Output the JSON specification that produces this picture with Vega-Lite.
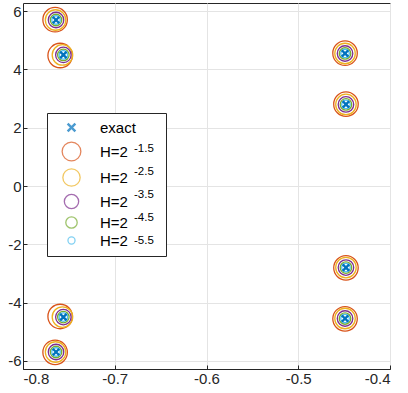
{
  "$schema": "https://vega.github.io/schema/vega-lite/v6.json",
  "width": 367,
  "height": 366,
  "autosize": "none",
  "padding": {"left": 23, "top": 3, "right": 18, "bottom": 24},
  "data": {
    "values": [
      {"series": "exact", "x": -0.764, "y": 5.70},
      {"series": "exact", "x": -0.756, "y": 4.50},
      {"series": "exact", "x": -0.449, "y": 4.55},
      {"series": "exact", "x": -0.448, "y": 2.80},
      {"series": "exact", "x": -0.448, "y": -2.80},
      {"series": "exact", "x": -0.449, "y": -4.55},
      {"series": "exact", "x": -0.756, "y": -4.50},
      {"series": "exact", "x": -0.764, "y": -5.70},
      {"series": "H=2^-1.5", "x": -0.765, "y": 5.71},
      {"series": "H=2^-1.5", "x": -0.7595, "y": 4.48},
      {"series": "H=2^-1.5", "x": -0.449, "y": 4.56},
      {"series": "H=2^-1.5", "x": -0.448, "y": 2.81},
      {"series": "H=2^-1.5", "x": -0.448, "y": -2.81},
      {"series": "H=2^-1.5", "x": -0.449, "y": -4.56},
      {"series": "H=2^-1.5", "x": -0.7595, "y": -4.48},
      {"series": "H=2^-1.5", "x": -0.765, "y": -5.71},
      {"series": "H=2^-2.5", "x": -0.7645, "y": 5.70},
      {"series": "H=2^-2.5", "x": -0.757, "y": 4.50},
      {"series": "H=2^-2.5", "x": -0.449, "y": 4.55},
      {"series": "H=2^-2.5", "x": -0.448, "y": 2.80},
      {"series": "H=2^-2.5", "x": -0.448, "y": -2.80},
      {"series": "H=2^-2.5", "x": -0.449, "y": -4.55},
      {"series": "H=2^-2.5", "x": -0.757, "y": -4.50},
      {"series": "H=2^-2.5", "x": -0.7645, "y": -5.70},
      {"series": "H=2^-3.5", "x": -0.764, "y": 5.70},
      {"series": "H=2^-3.5", "x": -0.756, "y": 4.50},
      {"series": "H=2^-3.5", "x": -0.449, "y": 4.55},
      {"series": "H=2^-3.5", "x": -0.448, "y": 2.80},
      {"series": "H=2^-3.5", "x": -0.448, "y": -2.80},
      {"series": "H=2^-3.5", "x": -0.449, "y": -4.55},
      {"series": "H=2^-3.5", "x": -0.756, "y": -4.50},
      {"series": "H=2^-3.5", "x": -0.764, "y": -5.70},
      {"series": "H=2^-4.5", "x": -0.764, "y": 5.70},
      {"series": "H=2^-4.5", "x": -0.756, "y": 4.50},
      {"series": "H=2^-4.5", "x": -0.449, "y": 4.55},
      {"series": "H=2^-4.5", "x": -0.448, "y": 2.80},
      {"series": "H=2^-4.5", "x": -0.448, "y": -2.80},
      {"series": "H=2^-4.5", "x": -0.449, "y": -4.55},
      {"series": "H=2^-4.5", "x": -0.756, "y": -4.50},
      {"series": "H=2^-4.5", "x": -0.764, "y": -5.70},
      {"series": "H=2^-5.5", "x": -0.764, "y": 5.70},
      {"series": "H=2^-5.5", "x": -0.756, "y": 4.50},
      {"series": "H=2^-5.5", "x": -0.449, "y": 4.55},
      {"series": "H=2^-5.5", "x": -0.448, "y": 2.80},
      {"series": "H=2^-5.5", "x": -0.448, "y": -2.80},
      {"series": "H=2^-5.5", "x": -0.449, "y": -4.55},
      {"series": "H=2^-5.5", "x": -0.756, "y": -4.50},
      {"series": "H=2^-5.5", "x": -0.764, "y": -5.70}
    ]
  },
  "encoding": {
    "x": {
      "field": "x", "type": "quantitative",
      "scale": {"domain": [-0.8, -0.4], "nice": false, "zero": false},
      "axis": {"title": null, "values": [-0.8, -0.7, -0.6, -0.5, -0.4], "format": ".1f"}
    },
    "y": {
      "field": "y", "type": "quantitative",
      "scale": {"domain": [-6.2832, 6.2832], "nice": false, "zero": false},
      "axis": {"title": null, "values": [-6, -4, -2, 0, 2, 4, 6], "format": "d"}
    },
    "color": {
      "field": "series", "type": "nominal",
      "scale": {
        "domain": ["exact", "H=2^-1.5", "H=2^-2.5", "H=2^-3.5", "H=2^-4.5", "H=2^-5.5"],
        "range": ["#0072BD", "#D95319", "#EDB120", "#7E2F8E", "#77AC30", "#4DBEEE"]
      },
      "legend": {
        "title": null,
        "labelExpr": "datum.label == 'exact' ? 'exact\u00a0\u00a0\u00a0\u00a0\u2009\u2009\u200b' : 'H=2'",
        "encoding": {
          "symbols": {
            "size": {"value": {"expr": "datum.value == 'exact' ? 60 : datum.value == 'H=2^-1.5' ? 350 : datum.value == 'H=2^-2.5' ? 300 : datum.value == 'H=2^-3.5' ? 205 : datum.value == 'H=2^-4.5' ? 130 : 50"}},
            "strokeWidth": {"value": {"expr": "datum.value == 'exact' ? 2.4 : 1.3"}}
          }
        }
      }
    },
    "shape": {
      "field": "series", "type": "nominal",
      "scale": {
        "domain": ["exact", "H=2^-1.5", "H=2^-2.5", "H=2^-3.5", "H=2^-4.5", "H=2^-5.5"],
        "range": ["M-1,-1L1,1M1,-1L-1,1", "circle", "circle", "circle", "circle", "circle"]
      },
      "legend": {
        "title": null,
        "labelExpr": "datum.label == 'exact' ? 'exact\u00a0\u00a0\u00a0\u00a0\u2009\u2009\u200b' : 'H=2'",
        "encoding": {
          "symbols": {
            "size": {"value": {"expr": "datum.value == 'exact' ? 60 : datum.value == 'H=2^-1.5' ? 350 : datum.value == 'H=2^-2.5' ? 300 : datum.value == 'H=2^-3.5' ? 205 : datum.value == 'H=2^-4.5' ? 130 : 50"}},
            "strokeWidth": {"value": {"expr": "datum.value == 'exact' ? 2.4 : 1.3"}}
          }
        }
      }
    },
    "size": {
      "condition": [
        {"test": "datum.series == 'exact'", "value": 42},
        {"test": "datum.series == 'H=2^-1.5'", "value": 600},
        {"test": "datum.series == 'H=2^-2.5'", "value": 420},
        {"test": "datum.series == 'H=2^-3.5'", "value": 240},
        {"test": "datum.series == 'H=2^-4.5'", "value": 132}
      ],
      "value": 72
    }
  },
  "layer": [
    {
      "transform": [
        {"filter": "datum.series != 'exact'"},
        {"calculate": "slice(datum.series, 4)", "as": "exponent"}
      ],
      "mark": {"type": "point", "filled": false, "strokeWidth": 1.3},
      "encoding": {
        "opacity": {
          "field": "exponent", "type": "ordinal",
          "scale": {"domain": ["-1.5", "-2.5", "-3.5", "-4.5", "-5.5"], "range": [1, 1, 1, 1, 1]},
          "legend": {
            "title": null,
            "orient": "none",
            "legendX": 90,
            "legendY": 135,
            "padding": 0,
            "rowPadding": -3,
            "symbolOffset": 0,
            "labelOffset": 0,
            "fillColor": "transparent",
            "strokeColor": "transparent",
            "symbolStrokeColor": "transparent",
            "symbolFillColor": "transparent",
            "labelFontSize": 11.5,
            "labelFont": "Liberation Sans",
            "labelColor": "black",
            "encoding": {
              "symbols": {"size": {"value": 350}, "opacity": {"value": 0}}
            }
          }
        }
      }
    },
    {
      "transform": [{"filter": "datum.series == 'exact'"}],
      "mark": {"type": "point", "filled": false, "strokeWidth": 2.4, "opacity": 1}
    }
  ],
  "config": {
    "locale": {"number": {"decimal": ".", "thousands": ",", "grouping": [3], "currency": ["$", ""], "minus": "-"}},
    "view": {"stroke": "#262626", "strokeWidth": 1},
    "axis": {
      "domainColor": "#262626",
      "tickColor": "#262626",
      "labelColor": "#262626",
      "labelFont": "Liberation Sans",
      "labelFontSize": 15,
      "gridColor": "#e4e4e4",
      "tickSize": -4,
      "labelPadding": 6
    },
    "legend": {
      "orient": "none",
      "legendX": 24,
      "legendY": 110,
      "fillColor": "white",
      "strokeColor": "#262626",
      "padding": 7,
      "symbolOffset": 10,
      "labelOffset": 21,
      "rowPadding": 2,
      "symbolSize": 400,
      "labelFontSize": 15,
      "labelFont": "Liberation Sans",
      "labelColor": "black",
      "labelLimit": 200
    }
  }
}
